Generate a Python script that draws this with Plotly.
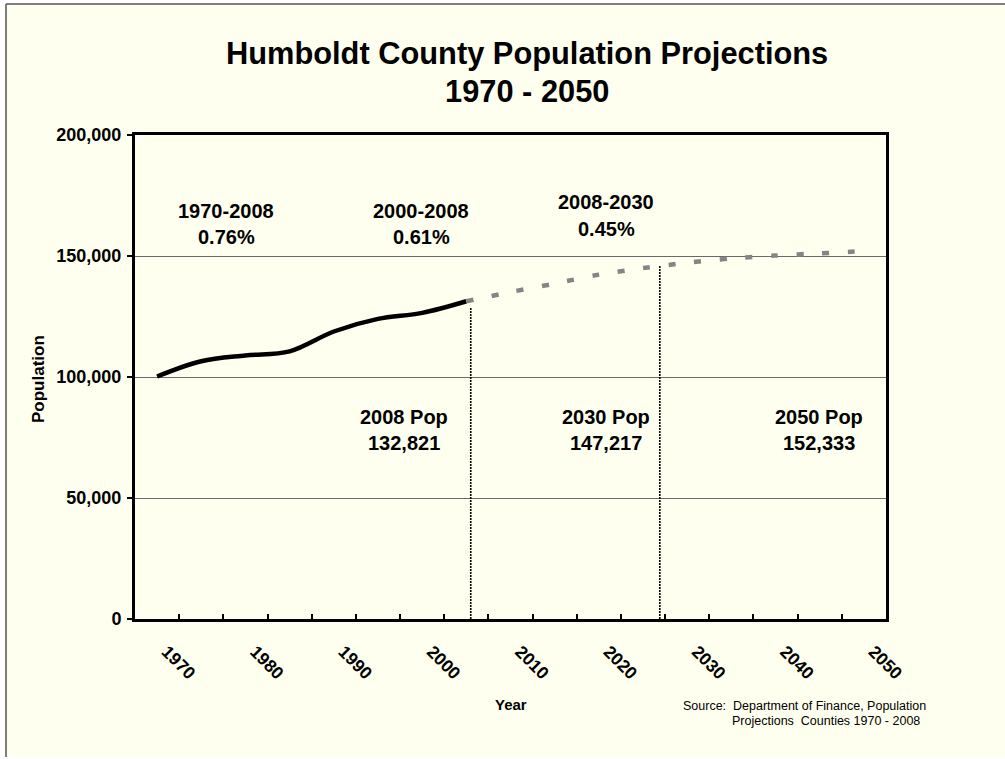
import plotly.graph_objects as go

# ---------------- data ----------------
hist_years = [1970, 1975, 1980, 1985, 1990, 1995, 2000, 2005]
hist_pop = [100200, 106500, 108900, 110600, 118800, 124000, 126500, 131300]

proj_years = [2005, 2010, 2015, 2020, 2025, 2030, 2035, 2040, 2045, 2050]
proj_pop = [131300, 135100, 138600, 142300, 145000, 147200, 149000, 150200, 151100, 152000]

tick_label_years = [1970, 1980, 1990, 2000, 2010, 2020, 2030, 2040, 2050]
tick_labels = ["1970", "1980", "1990", "2000", "2010", "2020", "2030", "2040", "2050"]
category_bounds = [1972.5 + 5 * k for k in range(16)]

y_ticks = [0, 50000, 100000, 150000, 200000]
y_tick_labels = ["0", "50,000", "100,000", "150,000", "200,000"]

marker_years = [2005.5, 2026.9]
marker_tops = [128700, 146000]

period_labels = ["1970-2008", "2000-2008", "2008-2030"]
period_rates = ["0.76%", "0.61%", "0.45%"]
pop_labels = ["2008 Pop", "2030 Pop", "2050 Pop"]
pop_values = ["132,821", "147,217", "152,333"]

title_lines = ["Humboldt County Population Projections", "1970 - 2050"]
source_lines = ["Source:  Department of Finance, Population", "Projections  Counties 1970 - 2008"]

# ---------------- layout helpers ----------------
W, H = 1005, 759
PL, PT, PR, PB = 135, 135, 886, 619
BG = "#FFFFEF"
FONT = "Liberation Sans, Arial, sans-serif"
LABEL_SHIFT = 1.1  # rotated tick labels sit a bit right of the category centre


def px(x):
    return (x - PL) / (PR - PL)


def py(y):
    return (PB - y) / (PB - PT)


fig = go.Figure()

fig.add_trace(go.Scatter(
    x=hist_years, y=hist_pop, mode="lines",
    line=dict(color="black", width=4.5, shape="spline", smoothing=1.0),
    hoverinfo="skip", showlegend=False))

fig.add_trace(go.Scatter(
    x=proj_years, y=proj_pop, mode="lines",
    line=dict(color="#858585", width=4.5, shape="spline", smoothing=0.8, dash="7px,18.7px"),
    hoverinfo="skip", showlegend=False))

for xv, top in zip(marker_years, marker_tops):
    fig.add_trace(go.Scatter(
        x=[xv, xv], y=[0, top], mode="lines",
        line=dict(color="black", width=1.6, dash="2px,1px"),
        hoverinfo="skip", showlegend=False))

# invisible trace so the label axis exists
fig.add_trace(go.Scatter(
    x=tick_label_years, y=[0] * len(tick_label_years), xaxis="x2", mode="markers",
    marker=dict(opacity=0), hoverinfo="skip", showlegend=False))

annotations = []
title_font = dict(family=FONT, size=30.8, color="black")
annotations.append(dict(x=px(527), y=py(54), text="<b>%s</b>" % title_lines[0], font=title_font))
annotations.append(dict(x=px(527), y=py(91), text="<b>%s</b>" % title_lines[1], font=title_font))

ann_font = dict(family=FONT, size=20, color="black")
period_x = [226, 421, 606]
period_y1 = [211, 211, 202]
period_y2 = [237, 237, 229]
for lab, rate, xx, y1, y2 in zip(period_labels, period_rates, period_x, period_y1, period_y2):
    annotations.append(dict(x=px(xx), y=py(y1), text="<b>%s</b>" % lab, font=ann_font))
    annotations.append(dict(x=px(xx), y=py(y2), text="<b>%s</b>" % rate, font=ann_font))

pop_x = [404, 606, 819]
for lab, val, xx in zip(pop_labels, pop_values, pop_x):
    annotations.append(dict(x=px(xx), y=py(417), text="<b>%s</b>" % lab, font=ann_font))
    annotations.append(dict(x=px(xx), y=py(443), text="<b>%s</b>" % val, font=ann_font))

# axis titles
annotations.append(dict(x=px(38), y=py(379), text="<b>Population</b>", textangle=-90,
                        font=dict(family=FONT, size=17, color="black")))
annotations.append(dict(x=px(510.5), y=py(704), text="<b>Year</b>",
                        font=dict(family=FONT, size=15, color="black")))
# source
annotations.append(dict(x=px(681), y=py(706), text=source_lines[0], xanchor="left",
                        font=dict(family=FONT, size=12.5, color="black")))
annotations.append(dict(x=px(730), y=py(721), text=source_lines[1], xanchor="left",
                        font=dict(family=FONT, size=12.5, color="black")))

for a in annotations:
    a.setdefault("xref", "paper")
    a.setdefault("yref", "paper")
    a.setdefault("showarrow", False)
    a.setdefault("xanchor", "center")
    a.setdefault("yanchor", "middle")

shapes = [
    # white outside margin + gray slide border
    dict(type="rect", xref="paper", yref="paper", x0=px(-5), x1=px(6), y0=py(H + 5), y1=py(-5),
         fillcolor="white", line=dict(width=0), layer="above"),
    dict(type="rect", xref="paper", yref="paper", x0=px(-5), x1=px(W + 5), y0=py(4), y1=py(-5),
         fillcolor="white", line=dict(width=0), layer="above"),
    dict(type="rect", xref="paper", yref="paper", x0=px(-5), x1=px(W + 5), y0=py(H + 5), y1=py(757),
         fillcolor="white", line=dict(width=0), layer="above"),
    dict(type="line", xref="paper", yref="paper", x0=px(6), x1=px(W + 5), y0=py(4), y1=py(4),
         line=dict(color="#555555", width=1.5), layer="above"),
    dict(type="line", xref="paper", yref="paper", x0=px(6), x1=px(6), y0=py(4), y1=py(757),
         line=dict(color="#555555", width=1.5), layer="above"),
]

fig.update_layout(
    width=W, height=H,
    margin=dict(l=PL, r=W - PR, t=PT, b=H - PB, pad=0),
    paper_bgcolor=BG, plot_bgcolor=BG,
    showlegend=False,
    annotations=annotations,
    shapes=shapes,
    xaxis=dict(
        range=[1967.5, 2052.5], tickmode="array", tickvals=category_bounds,
        showticklabels=False, ticks="inside", ticklen=5, tickwidth=2, tickcolor="black",
        showline=True, linewidth=3, linecolor="black", mirror=True,
        showgrid=False, zeroline=False),
    xaxis2=dict(
        overlaying="x", anchor="y", side="bottom", matches="x",
        range=[1967.5, 2052.5], tickmode="array",
        tickvals=[y + LABEL_SHIFT for y in tick_label_years], ticktext=tick_labels,
        tickangle=45, ticks="", showline=False, showgrid=False, zeroline=False,
        ticklabelstandoff=18,
        tickfont=dict(family=FONT, size=17.5, color="black", weight="bold")),
    yaxis=dict(
        range=[0, 200000], tickmode="array", tickvals=y_ticks, ticktext=y_tick_labels,
        ticks="outside", ticklen=5, tickwidth=1.5, tickcolor="black",
        showline=True, linewidth=3, linecolor="black", mirror=True,
        showgrid=True, gridcolor="#6a6a6a", gridwidth=1, zeroline=False,
        ticklabelstandoff=2,
        tickfont=dict(family=FONT, size=18, color="black", weight="bold")),
)

fig.write_html("out.html", config={"displayModeBar": False},
               post_script="document.body.style.margin='0';document.body.style.overflow='hidden';")
